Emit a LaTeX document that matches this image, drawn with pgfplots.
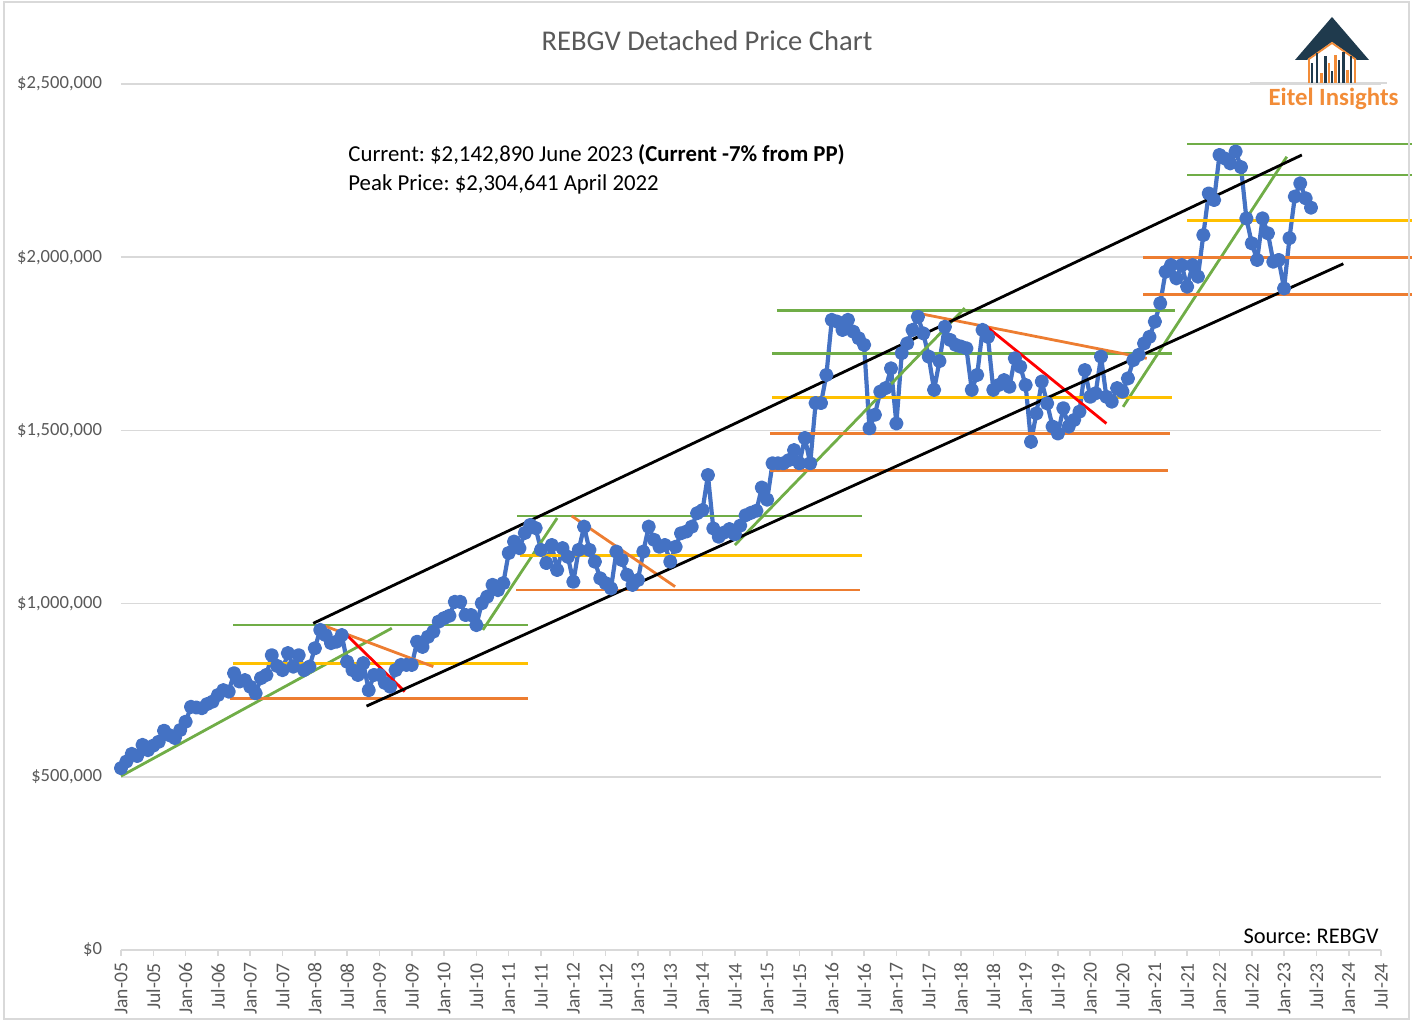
\documentclass[border=0pt]{standalone}
\usepackage{fontspec}
\setmainfont{Carlito}
\usepackage{pgfplots}
\pgfplotsset{compat=1.18}
\usepackage{pgfplotstable}
\definecolor{xblue}{HTML}{4472C4}
\definecolor{xgreen}{HTML}{70AD47}
\definecolor{xgold}{HTML}{FFC000}
\definecolor{xorange}{HTML}{ED7D31}
\definecolor{xred}{HTML}{FF0000}
\definecolor{xgray}{HTML}{595959}
\definecolor{xgrid}{HTML}{D9D9D9}
\definecolor{navy}{HTML}{1F3A4D}
\definecolor{logoorange}{HTML}{F28C38}

% month index (0 = Jan-05), price in thousands of dollars
\pgfplotstableread{
m v
0 525
1 544
2 566
3 560
4 592
5 577
6 590
7 601
8 633
9 620
10 612
11 635
12 659
13 702
14 700
15 698
16 710
17 717
18 736
19 750
20 746
21 799
22 775
23 779
24 760
25 741
26 785
27 794
28 851
29 820
30 808
31 857
32 818
33 851
34 808
35 818
36 871
37 924
38 909
39 886
40 890
41 909
42 832
43 808
44 794
45 828
46 750
47 794
48 794
49 771
50 760
51 808
52 823
53 823
54 823
55 890
56 875
57 904
58 919
59 948
60 958
61 965
62 1005
63 1005
64 967
65 967
66 938
67 1001
68 1020
69 1054
70 1039
71 1059
72 1146
73 1179
74 1160
75 1204
76 1227
77 1218
78 1155
79 1117
80 1169
81 1097
82 1160
83 1135
84 1063
85 1155
86 1222
87 1155
88 1121
89 1073
90 1059
91 1044
92 1150
93 1126
94 1083
95 1054
96 1068
97 1150
98 1222
99 1184
100 1164
101 1169
102 1121
103 1164
104 1203
105 1208
106 1222
107 1261
108 1270
109 1371
110 1217
111 1193
112 1205
113 1215
114 1200
115 1225
116 1255
117 1262
118 1268
119 1335
120 1300
121 1405
122 1405
123 1405
124 1414
125 1443
126 1405
127 1478
128 1405
129 1579
130 1579
131 1660
132 1819
133 1814
134 1790
135 1819
136 1785
137 1766
138 1747
139 1506
140 1545
141 1612
142 1622
143 1679
144 1520
145 1723
146 1751
147 1790
148 1828
149 1780
150 1713
151 1617
152 1700
153 1799
154 1761
155 1747
156 1742
157 1737
158 1617
159 1660
160 1790
161 1770
162 1617
163 1631
164 1645
165 1626
166 1708
167 1684
168 1631
169 1467
170 1549
171 1641
172 1578
173 1511
174 1491
175 1564
176 1511
177 1530
178 1554
179 1674
180 1597
181 1607
182 1713
183 1597
184 1583
185 1622
186 1612
187 1650
188 1703
189 1718
190 1751
191 1770
192 1814
193 1867
194 1958
195 1977
196 1939
197 1977
198 1915
199 1977
200 1944
201 2064
202 2184
203 2165
204 2295
205 2285
206 2271
207 2305
208 2260
209 2112
210 2040
211 1992
212 2112
213 2069
214 1987
215 1992
216 1910
217 2055
218 2175
219 2213
220 2170
221 2143
}\pricedata

\begin{document}
\frenchspacing
\begin{tikzpicture}
\path[use as bounding box] (0,0) rectangle (707pt,510.5pt);

\begin{axis}[
  at={(60.5pt,35.5pt)}, anchor=south west,
  scale only axis, width=630pt, height=433pt,
  xmin=0, xmax=234, ymin=0, ymax=2500,
  clip=false,
  axis x line*=bottom, axis y line*=left,
  y axis line style={draw=none},
  x axis line style={color=xgrid, line width=1pt},
  ytick={0,500,...,2500},
  yticklabels={{\$0},{\$500,000},{\$1,000,000},{\$1,500,000},{\$2,000,000},{\$2,500,000}},
  ytick style={draw=none},
  xtick={0,6,...,234},
  xticklabels={Jan-05,Jul-05,Jan-06,Jul-06,Jan-07,Jul-07,Jan-08,Jul-08,Jan-09,Jul-09,Jan-10,Jul-10,Jan-11,Jul-11,Jan-12,Jul-12,Jan-13,Jul-13,Jan-14,Jul-14,Jan-15,Jul-15,Jan-16,Jul-16,Jan-17,Jul-17,Jan-18,Jul-18,Jan-19,Jul-19,Jan-20,Jul-20,Jan-21,Jul-21,Jan-22,Jul-22,Jan-23,Jul-23,Jan-24,Jul-24},
  xtick style={color=xgrid, line width=0.8pt},
  tick align=outside, major tick length=3pt,
  xticklabel style={rotate=90, anchor=east, font=\fontsize{9.8}{12}\selectfont},
  yticklabel style={xshift=-3pt, font=\fontsize{9.3}{11}\selectfont},
  ticklabel style={text=xgray},
  ymajorgrids, grid style={color=xgrid, line width=0.8pt},
]
\addplot[xblue, line width=2.1pt, line join=round, mark=*, mark size=2.5pt,
  mark options={solid, fill=xblue, draw=xblue}] table[x=m,y=v]{\pricedata};

% green
\addplot[xgreen, line width=1.4pt] coordinates {(0,502) (50.3,929)};
\addplot[xgreen, line width=1.4pt] coordinates {(20.8,938) (75.6,938)};
\addplot[xgreen, line width=1.4pt] coordinates {(67.2,924) (81,1247)};
\addplot[xgreen, line width=1.4pt] coordinates {(73.5,1253) (137.6,1253)};
\addplot[xgreen, line width=1.4pt] coordinates {(114,1169) (156.7,1853)};
\addplot[xgreen, line width=1.4pt] coordinates {(121.8,1845) (195.7,1845)};
\addplot[xgreen, line width=1.4pt] coordinates {(120.9,1723) (195.2,1723)};
\addplot[xgreen, line width=1.4pt] coordinates {(186.1,1568) (216.5,2290)};
\addplot[xgreen, line width=1.4pt] coordinates {(198,2327) (239.7,2327)};
\addplot[xgreen, line width=1.4pt] coordinates {(198,2237) (239.7,2237)};
% gold
\addplot[xgold, line width=1.4pt] coordinates {(20.8,828) (75.6,828)};
\addplot[xgold, line width=1.4pt] coordinates {(74.1,1138) (137.6,1138)};
\addplot[xgold, line width=1.4pt] coordinates {(120.9,1595) (195.2,1595)};
\addplot[xgold, line width=1.4pt] coordinates {(198,2105) (239.7,2105)};
% orange horizontal
\addplot[xorange, line width=1.4pt] coordinates {(20.2,725) (75.6,725)};
\addplot[xorange, line width=1.4pt] coordinates {(73.4,1039) (137.2,1039)};
\addplot[xorange, line width=1.4pt] coordinates {(120.5,1492) (194.8,1492)};
\addplot[xorange, line width=1.4pt] coordinates {(120.5,1384) (194.4,1384)};
\addplot[xorange, line width=1.4pt] coordinates {(189.8,2000) (239.7,2000)};
\addplot[xorange, line width=1.4pt] coordinates {(189.8,1892) (239.7,1892)};
% orange diagonal
\addplot[xorange, line width=1.4pt] coordinates {(37.9,935) (58,818)};
\addplot[xorange, line width=1.4pt] coordinates {(83.7,1253) (102.9,1049)};
\addplot[xorange, line width=1.4pt] coordinates {(148.1,1838) (190.5,1708)};
% red
\addplot[xred, line width=1.4pt] coordinates {(41.6,914) (52.7,746)};
\addplot[xred, line width=1.4pt] coordinates {(160.8,1799) (183,1520)};
% black channel
\addplot[black, line width=1.4pt] coordinates {(35.7,943) (219.3,2295)};
\addplot[black, line width=1.4pt] coordinates {(45.6,704) (227,1981)};
\end{axis}

\begin{scope}[x=0.5pt,y=-0.5pt,yshift=510.5pt]
  \draw[xgrid, line width=0.6pt] (4,2) rectangle (1409,1019);
  \node[text=xgray, font=\fontsize{14.3}{16}\selectfont] at (707,41) {REBGV Detached Price Chart};
  \node[anchor=west, inner sep=0pt, font=\fontsize{11.4}{14}\selectfont] at (348,155) {Current: \$2,142,890 June 2023 \textbf{(Current -7\% from PP)}};
  \node[anchor=west, inner sep=0pt, font=\fontsize{11.4}{14}\selectfont] at (348,184) {Peak Price: \$2,304,641 April 2022};
  \node[anchor=east, inner sep=0pt, font=\fontsize{11.2}{14}\selectfont] at (1379,936) {Source: REBGV};
  % logo
  \draw[xgrid, line width=0.8pt] (1250,83) -- (1387,83);
  \fill[navy] (1332,17) -- (1369,60) -- (1295,60) -- cycle;
  \fill[white] (1332,42) -- (1361,63) -- (1303,63) -- cycle;
  \draw[logoorange, line width=0.9pt] (1309,83) -- (1309,59) -- (1332,43) -- (1355,59) -- (1355,83);
  \foreach \bx/\by/\bc in {1312/63/navy,1317/53/navy,1321.5/73/logoorange,1325.5/56/navy,1329/63/logoorange,1332/71/navy,1335.5/55/logoorange,1339/60/navy,1343.5/52/navy,1347.5/70/logoorange,1351/56/navy}
    \draw[\bc, line width=1.1pt] (\bx,83) -- (\bx,\by);
  \node[text=logoorange, font=\bfseries\fontsize{12.4}{14}\selectfont] at (1333.5,99) {Eitel Insights};
\end{scope}
\end{tikzpicture}
\end{document}
